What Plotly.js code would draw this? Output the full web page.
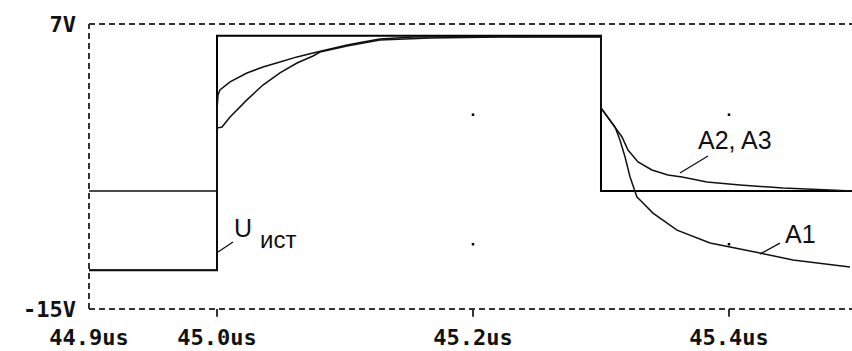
<!DOCTYPE html>
<html><head><meta charset="utf-8">
<script src="https://cdn.plot.ly/plotly-3.0.1.min.js"></script>
<style>html,body{margin:0;padding:0;background:#fff}#chart{width:852px;height:351px}</style>
</head><body><div id="chart"></div>
<script>
// time in microseconds, voltage in volts
const sourceT = [44.9, 45.0, 45.0, 45.3, 45.3, 45.4961];
const sourceV = [-12, -12, 6.1, 6.1, -5.9, -5.9];

const a23T = [44.9, 45.0, 45.0, 45.0008, 45.0023, 45.0102, 45.0234, 45.0359, 45.0492, 45.0625, 45.075, 45.1016, 45.1141, 45.1273, 45.153, 45.221, 45.3,
  45.3, 45.311, 45.3164, 45.3211, 45.3289, 45.3398, 45.3523, 45.3633, 45.3828, 45.4086, 45.4422, 45.4789, 45.4961];
const a23V = [-5.9, -5.9, 0.36, 1.52, 1.91, 2.53, 3.22, 3.68, 4.07, 4.46, 4.76, 5.38, 5.61, 5.85, 6.0, 6.05, 6.05,
  0.52, -0.95, -1.72, -2.73, -3.65, -4.27, -4.65, -4.81, -5.2, -5.43, -5.66, -5.81, -5.89];

const a1T = [44.9, 45.0, 45.0, 45.0039, 45.0102, 45.0234, 45.0359, 45.0492, 45.0625, 45.075, 45.0805, 45.1016, 45.1273, 45.1664, 45.221, 45.3,
  45.3, 45.311, 45.3148, 45.3188, 45.3227, 45.3281, 45.3305, 45.3406, 45.3594, 45.3852, 45.4242, 45.45, 45.4945];
const a1V = [-12, -12, -1.03, -0.95, -0.18, 1.14, 2.29, 3.22, 3.99, 4.53, 4.84, 5.3, 5.77, 5.92, 6.0, 6.0,
  0.52, -0.95, -1.95, -3.27, -4.81, -6.36, -6.59, -7.6, -8.91, -9.91, -10.68, -11.22, -11.76];

const gridDotT = [45.2, 45.2, 45.4, 45.4];
const gridDotV = [0, -10, 0, -10];

const xTickVals = [44.9, 45.0, 45.2, 45.4];
const xTickText = ['44.9us', '45.0us', '45.2us', '45.4us'];
const xTickMarks = [45.0, 45.2, 45.4];
const yTickVals = [7, -15];
const yTickText = ['7V', '-15V'];

const labelText = ['A2, A3', 'A1', 'U', 'ист'];
const labelT = [45.4047, 45.4555, 45.0203, 45.0477];
const labelV = [-1.96, -9.21, -8.75, -9.6];

const leaderT0 = [45.3617, 45.4242, 45.0008];
const leaderV0 = [-4.5, -10.76, -10.6];
const leaderT1 = [45.3836, 45.4398, 45.0125];
const leaderV1 = [-3.19, -9.91, -9.83];

const traces = [
  {x: sourceT, y: sourceV, mode: 'lines', line: {color: '#000', width: 2}, hoverinfo: 'skip'},
  {x: a23T, y: a23V, mode: 'lines', line: {color: '#111', width: 1.5}, hoverinfo: 'skip'},
  {x: a1T, y: a1V, mode: 'lines', line: {color: '#111', width: 1.5}, hoverinfo: 'skip'},
  {x: gridDotT, y: gridDotV, mode: 'markers', marker: {color: '#000', size: 2.5, symbol: 'square'}, hoverinfo: 'skip'}
];

const shapes = [];
const frame = {color: '#333', width: 2, dash: '6px,4px'};
shapes.push({type: 'line', xref: 'paper', yref: 'paper', x0: 0, x1: 1, y0: 1, y1: 1, line: frame});
shapes.push({type: 'line', xref: 'paper', yref: 'paper', x0: 0, x1: 1, y0: 0, y1: 0, line: frame});
shapes.push({type: 'line', xref: 'paper', yref: 'paper', x0: 0, x1: 0, y0: 0, y1: 1, line: frame});
xTickMarks.forEach(t => shapes.push({type: 'line', xref: 'x', yref: 'paper', x0: t, x1: t, y0: 0, y1: -0.027, line: {color: '#333', width: 2}}));
leaderT0.forEach((t, i) => shapes.push({type: 'line', xref: 'x', yref: 'y', x0: t, y0: leaderV0[i], x1: leaderT1[i], y1: leaderV1[i], line: {color: '#111', width: 1.3}}));

const annotations = labelText.map((s, i) => ({
  x: labelT[i], y: labelV[i], xref: 'x', yref: 'y', text: s, showarrow: false,
  font: {family: 'Liberation Sans, Arial, sans-serif', size: s === 'ист' ? 24 : 25, color: '#111'}
}));

const tickFont = {family: 'DejaVu Sans Mono, monospace', size: 22, color: '#111', weight: 700};

const layout = {
  width: 852, height: 351,
  margin: {l: 89, r: 0, t: 24, b: 42, pad: 0},
  paper_bgcolor: '#fff', plot_bgcolor: '#fff',
  showlegend: false,
  xaxis: {range: [44.9, 45.4961], tickvals: xTickVals, ticktext: xTickText, showgrid: false, zeroline: false, showline: false,
    ticks: '', tickfont: tickFont, ticklabelstandoff: 13, fixedrange: true},
  yaxis: {range: [-15, 7], tickvals: yTickVals, ticktext: yTickText, showgrid: false, zeroline: false, showline: false,
    ticks: '', tickfont: tickFont, ticklabelstandoff: 12, fixedrange: true},
  shapes: shapes,
  annotations: annotations
};

Plotly.newPlot('chart', traces, layout, {staticPlot: true, displayModeBar: false});
</script></body></html>
